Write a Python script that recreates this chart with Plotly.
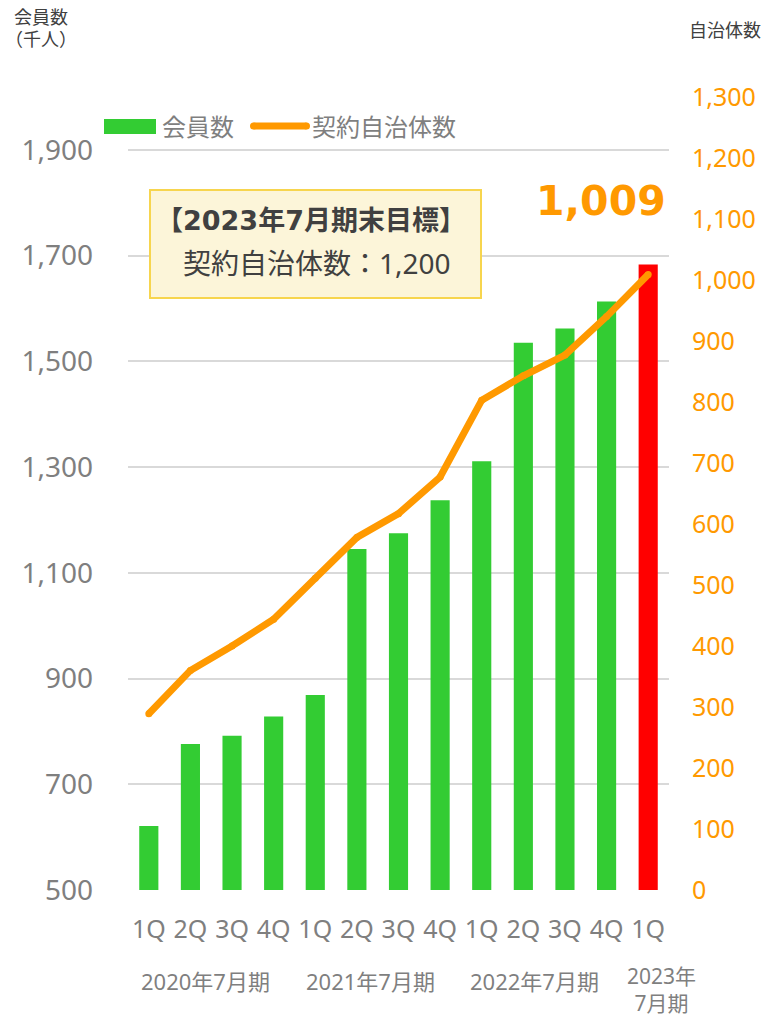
import plotly.graph_objects as go

# ---- data ----
quarters = ["1Q", "2Q", "3Q", "4Q", "1Q", "2Q", "3Q", "4Q", "1Q", "2Q", "3Q", "4Q", "1Q"]
members = [621, 776, 792, 828, 869, 1145, 1175, 1237, 1311, 1535, 1562, 1613, 1683]
municipalities = [289, 360, 400, 444, 511, 578, 617, 677, 803, 843, 877, 940, 1009]
bar_colors = ["#33CC33"] * 12 + ["#FF0000"]
fiscal_labels = ["2020年7月期", "2021年7月期", "2022年7月期", "2023年<br>7月期"]
fiscal_centers = [1.37, 5.33, 9.27, 12.33]
left_ticks = [500, 700, 900, 1100, 1300, 1500, 1700, 1900]
right_ticks = list(range(0, 1301, 100))

W, H = 764, 1017
ML, MR, MT, MB = 128, 95, 97, 127
PW, PH = W - ML - MR, H - MT - MB


def px(x):
    return (x - ML) / PW


def py(y):
    return (H - MB - y) / PH


FONT = "Noto Sans, Noto Sans CJK JP, sans-serif"
GRAY = "#7F7F7F"
DARK = "#404040"
ORANGE = "#FF9900"
GREEN = "#33CC33"

xs = list(range(len(quarters)))

fig = go.Figure()
fig.add_trace(go.Bar(
    x=xs, y=members, name="会員数",
    marker=dict(color=bar_colors, line=dict(width=0)),
    width=0.46, yaxis="y", hoverinfo="skip", showlegend=False,
))
fig.add_trace(go.Scatter(
    x=xs, y=municipalities, name="契約自治体数", mode="lines+markers",
    line=dict(color=ORANGE, width=7),
    marker=dict(color=ORANGE, size=7, line=dict(width=0)),
    yaxis="y2", hoverinfo="skip", showlegend=False,
))

annotations = []
# axis titles
annotations.append(dict(text="会員数", xref="paper", yref="paper",
                        x=px(12), y=py(17), xanchor="left", yanchor="middle",
                        showarrow=False, font=dict(family=FONT, size=18, color=DARK)))
annotations.append(dict(text="（千人）", xref="paper", yref="paper",
                        x=px(3), y=py(39), xanchor="left", yanchor="middle",
                        showarrow=False, font=dict(family=FONT, size=18, color=DARK)))
annotations.append(dict(text="自治体数", xref="paper", yref="paper",
                        x=px(687), y=py(30), xanchor="left", yanchor="middle",
                        showarrow=False, font=dict(family=FONT, size=18, color=DARK)))
# legend (custom, to match the wide swatches)
annotations.append(dict(text="会員数", xref="paper", yref="paper",
                        x=px(160), y=py(126), xanchor="left", yanchor="middle",
                        showarrow=False, font=dict(family=FONT, size=24, color=GRAY)))
annotations.append(dict(text="契約自治体数", xref="paper", yref="paper",
                        x=px(310), y=py(126), xanchor="left", yanchor="middle",
                        showarrow=False, font=dict(family=FONT, size=24, color=GRAY)))
# fiscal year labels
for lab, c in zip(fiscal_labels, fiscal_centers):
    two = "<br>" in lab
    annotations.append(dict(text=lab, xref="x", yref="paper", x=c,
                            y=py(989) if two else py(981),
                            xanchor="center", yanchor="middle", showarrow=False,
                            font=dict(family=FONT, size=21 if two else 22, color=GRAY)))
# target box text
annotations.append(dict(text="<b>【2023年7月期末目標】</b>", xref="paper", yref="paper",
                        x=px(311), y=py(221), xanchor="center", yanchor="middle",
                        showarrow=False,
                        font=dict(family="DejaVu Sans, Noto Sans CJK JP", size=27, color=DARK)))
annotations.append(dict(text="契約自治体数：1,200", xref="paper", yref="paper",
                        x=px(317), y=py(263), xanchor="center", yanchor="middle",
                        showarrow=False, font=dict(family=FONT, size=28, color=DARK)))
# latest value callout
annotations.append(dict(text="<b>1,009</b>", xref="paper", yref="paper",
                        x=px(601), y=py(201), xanchor="center", yanchor="middle",
                        showarrow=False, font=dict(family="DejaVu Sans", size=41, color=ORANGE)))

shapes = [
    dict(type="rect", xref="paper", yref="paper",
         x0=px(150), x1=px(481), y0=py(190), y1=py(298),
         fillcolor="#FCF5D9", line=dict(color="#F7D54E", width=2), layer="above"),
    # legend swatches
    dict(type="rect", xref="paper", yref="paper",
         x0=px(104), x1=px(156), y0=py(119), y1=py(134),
         fillcolor=GREEN, line=dict(width=0)),
    dict(type="line", xref="paper", yref="paper",
         x0=px(253.5), x1=px(306.5), y0=py(126), y1=py(126),
         line=dict(color=ORANGE, width=7)),
    dict(type="circle", xref="paper", yref="paper",
         x0=px(250), x1=px(257), y0=py(122.5), y1=py(129.5),
         fillcolor=ORANGE, line=dict(width=0)),
    dict(type="circle", xref="paper", yref="paper",
         x0=px(303), x1=px(310), y0=py(122.5), y1=py(129.5),
         fillcolor=ORANGE, line=dict(width=0)),
]

fig.update_layout(
    width=W, height=H,
    margin=dict(l=ML, r=MR, t=MT, b=MB, autoexpand=False),
    paper_bgcolor="white", plot_bgcolor="white",
    font=dict(family=FONT, color=GRAY),
    showlegend=False,
    xaxis=dict(tickmode="array", tickvals=xs, ticktext=quarters, range=[-0.5, 12.5],
               showgrid=False, zeroline=False, showline=False, ticks="",
               tickfont=dict(family=FONT, size=25, color=GRAY), ticklabelstandoff=22),
    yaxis=dict(range=[500, 2000], tickvals=left_ticks, tickformat=",",
               showgrid=True, gridcolor="#D9D9D9", gridwidth=1.5, zeroline=False,
               showline=False, ticks="",
               tickfont=dict(family=FONT, size=28, color=GRAY), ticklabelstandoff=34),
    yaxis2=dict(range=[0, 1300], tickvals=right_ticks, tickformat=",", overlaying="y",
                side="right", showgrid=False, zeroline=False, showline=False, ticks="",
                tickfont=dict(family=FONT, size=25, color=ORANGE), ticklabelstandoff=22),
    annotations=annotations,
    shapes=shapes,
    bargap=0.54,
)

fig.write_html("out.html", config={"displayModeBar": False},
               post_script="document.body.style.margin='0';")
